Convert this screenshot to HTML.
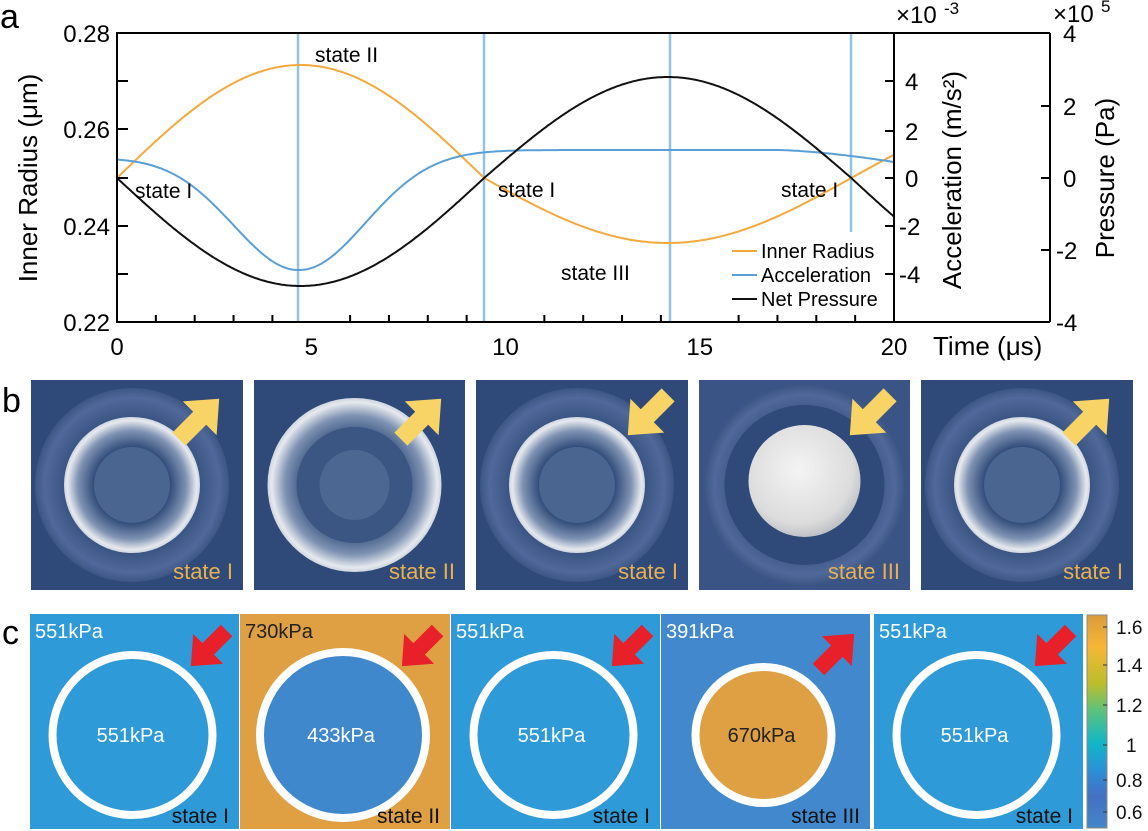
<!DOCTYPE html>
<html><head><meta charset="utf-8"><style>
html,body{margin:0;padding:0;background:#fff}
svg{display:block}
text{font-family:"Liberation Sans",Arial,sans-serif}
</style></head><body>
<svg id="s" width="1148" height="831" viewBox="0 0 1148 831" xmlns="http://www.w3.org/2000/svg">
<defs>
<radialGradient id="shellA" cx="0.5" cy="0.5" r="0.5">
<stop offset="0.55" stop-color="#2f4a78"/><stop offset="0.8" stop-color="#7f93b3"/><stop offset="0.95" stop-color="#e6e9ee"/><stop offset="1" stop-color="#cfd6e0"/>
</radialGradient>
<radialGradient id="faint" cx="0.5" cy="0.5" r="0.5">
<stop offset="0.6" stop-color="#2f4a78"/><stop offset="0.9" stop-color="#50699a"/><stop offset="1" stop-color="#3c5684"/>
</radialGradient>
<radialGradient id="ball" cx="0.45" cy="0.4" r="0.6">
<stop offset="0" stop-color="#f4f4f4"/><stop offset="0.8" stop-color="#dcdcdc"/><stop offset="1" stop-color="#bfc2c6"/>
</radialGradient>
<linearGradient id="cb" x1="0" y1="0" x2="0" y2="1">
<stop offset="0" stop-color="#d99a3e"/><stop offset="0.15" stop-color="#f6b736"/><stop offset="0.32" stop-color="#bcbd2c"/><stop offset="0.45" stop-color="#5cc27e"/><stop offset="0.6" stop-color="#12b6c8"/><stop offset="0.72" stop-color="#2a93d6"/><stop offset="0.85" stop-color="#4470c2"/><stop offset="1" stop-color="#4486c8"/>
</linearGradient>
</defs>
<g id="a"></g>
<g id="b"></g>
<g id="c"></g>
</svg>
<script>
var NS="http://www.w3.org/2000/svg";
function el(p,t,at,tx){var e=document.createElementNS(NS,t);for(var k in at)e.setAttribute(k,at[k]);if(tx!==undefined)e.textContent=tx;p.appendChild(e);return e;}
var A=document.getElementById('a');
var X0=117,X1=894,Y0=33,Y1=322;
function X(t){return X0+(X1-X0)*t/20;}
[[298,322],[484,322],[670,322],[851,232]].forEach(function(v){el(A,'line',{x1:v[0],y1:Y0,x2:v[0],y2:v[1],stroke:'#94c2e6','stroke-width':2.5});});
var w=2*Math.PI/18.9;
function path(f){var d='';for(var i=0;i<=400;i++){var t=20*i/400;d+=(i?'L':'M')+X(t).toFixed(1)+' '+f(t).toFixed(1);}return d;}
el(A,'path',{d:path(function(t){var s=Math.sin(w*t);return 178-((s>0&&t<10)?113:65)*s;}),fill:'none',stroke:'#f4a93c','stroke-width':2});
el(A,'path',{d:path(function(t){var g=Math.exp(-Math.pow((t-4.7)/2.4,2));var base=150+ (t<4.7?7*(1-t/4.7):0)+(t>17?12*Math.pow((t-17)/3,1.5):0);return base+(270-150)*g;}),fill:'none',stroke:'#5a9fd6','stroke-width':2});
el(A,'path',{d:path(function(t){var s=Math.sin(w*t);return 178+(s>0?108:101)*s;}),fill:'none',stroke:'#111','stroke-width':2});
el(A,'rect',{x:X0,y:Y0,width:X1-X0,height:Y1-Y0,fill:'none',stroke:'#000','stroke-width':2});
el(A,'line',{x1:1050,y1:Y0,x2:1050,y2:Y1,stroke:'#000','stroke-width':2});
el(A,'line',{x1:X1,y1:Y1,x2:1050,y2:Y1,stroke:'#000','stroke-width':2});
el(A,'line',{x1:X1,y1:Y0,x2:1050,y2:Y0,stroke:'#000','stroke-width':2});
for(var i=0;i<=20;i++){if(i%5==0)continue;el(A,'line',{x1:X(i),y1:Y1,x2:X(i),y2:Y1-7,stroke:'#000','stroke-width':2});}
[0,5,10,15,20].forEach(function(t){el(A,'text',{x:X(t),y:355,'font-size':24,'text-anchor':'middle'},t);});
[[0.27,81],[0.25,178],[0.23,274],[0.26,129],[0.24,226]].forEach(function(v){el(A,'line',{x1:X0,y1:v[1],x2:X0+11,y2:v[1],stroke:'#000','stroke-width':2});});
[['0.28',Y0],['0.26',129],['0.24',226],['0.22',Y1]].forEach(function(v){el(A,'text',{x:110,y:v[1]+9,'font-size':24,'text-anchor':'end'},v[0]);});
[['4',81],['2',131],['0',178],['-2',226],['-4',274]].forEach(function(v){el(A,'line',{x1:X1,y1:v[1],x2:X1-9,y2:v[1],stroke:'#000','stroke-width':2});el(A,'text',{x:v[0].length>1?899:905,y:v[1]+9,'font-size':24},v[0]);});
[['4',Y0],['2',106],['0',178],['-2',250],['-4',Y1]].forEach(function(v){el(A,'line',{x1:1050,y1:v[1],x2:1041,y2:v[1],stroke:'#000','stroke-width':2});el(A,'text',{x:v[0].length>1?1056:1063,y:v[1]+9,'font-size':24},v[0]);});
el(A,'text',{x:896,y:23,'font-size':24},'×10');el(A,'text',{x:944,y:14,'font-size':17},'-3');
el(A,'text',{x:1053,y:22,'font-size':24},'×10');el(A,'text',{x:1101,y:12,'font-size':17},'5');
el(A,'text',{x:0,y:0,'font-size':26,'text-anchor':'middle',transform:'translate(37,178) rotate(-90)'},'Inner Radius (μm)');
el(A,'text',{x:0,y:0,'font-size':26,'text-anchor':'middle',transform:'translate(961,180) rotate(-90)'},'Acceleration (m/s²)');
el(A,'text',{x:0,y:0,'font-size':26,'text-anchor':'middle',transform:'translate(1114,178) rotate(-90)'},'Pressure (Pa)');
el(A,'text',{x:933,y:355,'font-size':26},'Time (μs)');
el(A,'text',{x:0,y:28,'font-size':34},'a');
[['state II',315,62],['state I',135,198],['state I',498,197],['state III',561,280],['state I',781,197]].forEach(function(v){el(A,'text',{x:v[1],y:v[2],'font-size':21},v[0]);});
[['Inner Radius','#f4a93c',258],['Acceleration','#5a9fd6',282],['Net Pressure','#111',306]].forEach(function(v){el(A,'line',{x1:732,y1:v[2]-7,x2:757,y2:v[2]-7,stroke:v[1],'stroke-width':2});el(A,'text',{x:761,y:v[2],'font-size':20},v[0]);});
var B=document.getElementById('b');
el(B,'text',{x:2,y:412,'font-size':34},'b');
var bp=[[31,212,'I',1],[254,211,'II',2],[476,212,'I',1],[699,211,'III',3],[921,212,'I',1]];
bp.forEach(function(p,k){var x=p[0],y=380,wd=p[1],h=210,cx=x+wd/2-5,cy=y+h/2;
el(B,'rect',{x:x,y:y,width:wd,height:h,fill:'#2f4a78'});
if(p[3]==1){el(B,'circle',{cx:cx,cy:cy,r:97,fill:'url(#faint)'});el(B,'circle',{cx:cx,cy:cy,r:68,fill:'url(#shellA)'});el(B,'circle',{cx:cx,cy:cy,r:38,fill:'#4a6590'});}
else if(p[3]==2){el(B,'circle',{cx:cx,cy:cy,r:87,fill:'url(#shellA)'});el(B,'circle',{cx:cx,cy:cy,r:58,fill:'#3b5683'});el(B,'circle',{cx:cx,cy:cy,r:35,fill:'#4c6792'});}
else {el(B,'rect',{x:x,y:y,width:wd,height:h,fill:'#3a5585'});el(B,'circle',{cx:cx+5,cy:cy,r:100,fill:'url(#faint)'});el(B,'circle',{cx:cx+5,cy:cy,r:80,fill:'#2f4a78'});el(B,'circle',{cx:cx+5,cy:cy-4,r:56,fill:'url(#ball)'});}
var ax=x+wd-42,ay=y+37,up=(k!=2&&k!=3),S=1.3;
var pts=up?[[-22,12],[-6,-4],[-14,-12],[14,-14],[12,14],[4,6],[-12,22]]:[[22,-12],[6,4],[14,12],[-14,14],[-12,-14],[-4,-6],[12,-22]];
el(B,'polygon',{points:pts.map(function(q){return (ax+q[0]*S)+','+(ay+q[1]*S);}).join(' '),fill:'#f8d366'});
el(B,'text',{x:x+wd-10,y:y+h-11,'font-size':22,'text-anchor':'end',fill:'#e8b050'},'state '+p[2]);
});
var C=document.getElementById('c');
el(C,'text',{x:2,y:644,'font-size':34},'c');
var cp=[[30,209,'#2e9ad8',null,'551kPa','551kPa','I','#fff'],[240,210,'#dea043','#3f88cc','730kPa','433kPa','II','#222'],[451,209,'#2e9ad8',null,'551kPa','551kPa','I','#fff'],[661,209,'#4189cc','#dea043','391kPa','670kPa','III','#fff'],[874,209,'#2e9ad8',null,'551kPa','551kPa','I','#fff']];
cp.forEach(function(p){var x=p[0],y=614,wd=p[1],h=215,cx=x+wd/2-2,cy=y+121;
el(C,'rect',{x:x,y:y,width:wd,height:h,fill:p[2]});
var r=p[3]==null?80:(p[6]=='II'?83:68);
el(C,'circle',{cx:cx,cy:cy,r:r,fill:p[3]||p[2],stroke:'#fff','stroke-width':8});
el(C,'text',{x:x+5,y:y+24,'font-size':20,fill:p[7]},p[4]);
el(C,'text',{x:cx-2,y:cy+7,'font-size':20,fill:p[3]=='#dea043'?'#222':'#fff','text-anchor':'middle'},p[5]);
el(C,'text',{x:x+wd-10,y:y+h-6,'font-size':21,'text-anchor':'end',fill:'#111'},'state '+p[6]);
var ax=x+wd-32,ay=y+36,dn=(p[6]!='III'),S=1.15;
var pts=dn?[[22,-12],[6,4],[14,12],[-14,14],[-12,-14],[-4,-6],[12,-22]]:[[-22,12],[-6,-4],[-14,-12],[14,-14],[12,14],[4,6],[-12,22]];
el(C,'polygon',{points:pts.map(function(q){return (ax+q[0]*S)+','+(ay+q[1]*S);}).join(' '),fill:'#e8202a'});
});
el(C,'rect',{x:1087,y:615,width:20,height:213,fill:'url(#cb)',stroke:'#888','stroke-width':1});
[['1.6',634],['1.4',672],['1.2',712],['1',752],['0.8',787],['0.6',819]].forEach(function(v){el(C,'line',{x1:1103,y1:v[1]-7,x2:1107,y2:v[1]-7,stroke:'#333'});el(C,'text',{x:v[0]=='1'?1126:1116,y:v[1],'font-size':19,fill:'#111'},v[0]);});
</script>
</body></html>
